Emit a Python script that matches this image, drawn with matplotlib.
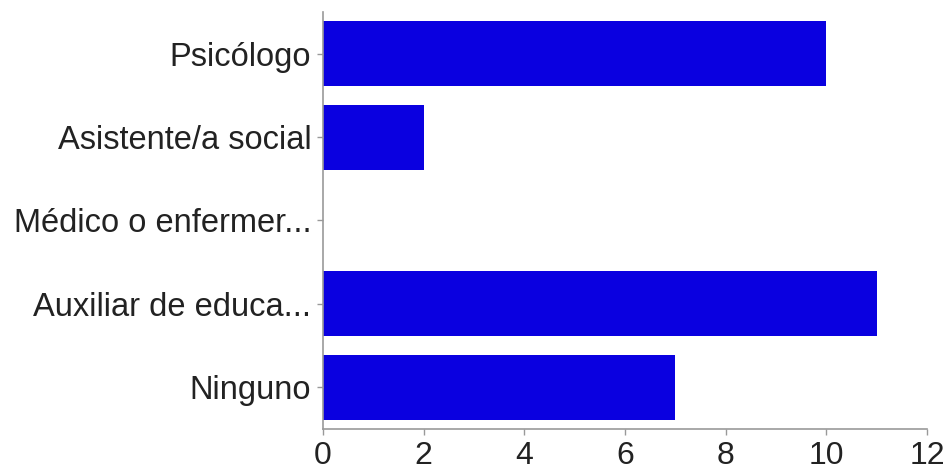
import numpy as np
import matplotlib
matplotlib.use("Agg")
import matplotlib.pyplot as plt

plt.rcParams['font.family'] = ['Liberation Sans', 'DejaVu Sans']

categories = ["Psicólogo", "Asistente/a social", "Médico o enfermer...",
              "Auxiliar de educa...", "Ninguno"]
values = [10, 2, 0, 11, 7]
xticks = [0, 2, 4, 6, 8, 10, 12]

axis_col = "#999999"
text_col = "#222222"
bar_col = "#0a00e0"

fig = plt.figure(figsize=(9.48, 4.73), dpi=100)
ax = fig.add_axes([323/948, 1 - 429/473, (927 - 323)/948, (429 - 12)/473])

ypos = np.arange(len(categories))
ax.barh(ypos, values, height=0.78, color=bar_col, linewidth=0)
ax.set_ylim(len(categories) - 0.5, -0.5)
ax.set_xlim(0, 12)
ax.set_xticks(xticks)
ax.set_xticklabels([str(t) for t in xticks])
ax.set_yticks(ypos)
ax.set_yticklabels(categories)

for s in ["top", "right"]:
    ax.spines[s].set_visible(False)
for s in ["left", "bottom"]:
    ax.spines[s].set_color(axis_col)
    ax.spines[s].set_linewidth(1.2)

ax.tick_params(axis="both", colors=axis_col, labelcolor=text_col, labelsize=23.5,
               length=4.5, width=1.0)
ax.tick_params(axis="y", pad=4)
ax.tick_params(axis="x", labelsize=23, pad=4)

fig.savefig("out.png", dpi=100)
